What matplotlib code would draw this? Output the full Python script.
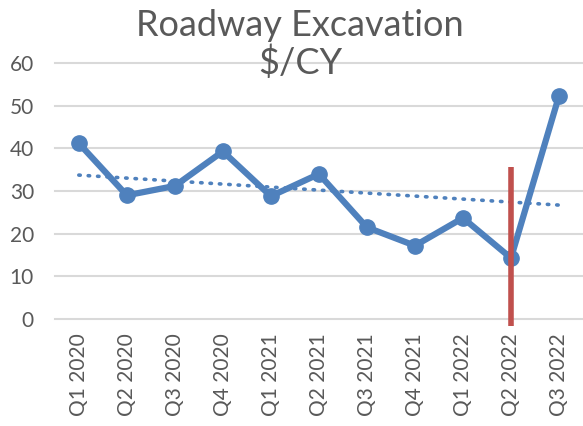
import numpy as np
import matplotlib
matplotlib.use("Agg")
import matplotlib.pyplot as plt

# chart data
quarters = ["Q1 2020", "Q2 2020", "Q3 2020", "Q4 2020", "Q1 2021", "Q2 2021",
            "Q3 2021", "Q4 2021", "Q1 2022", "Q2 2022", "Q3 2022"]
cost_per_cy = [41.2, 29.0, 31.2, 39.3, 28.8, 34.0, 21.5, 17.2, 23.7, 14.3, 52.3]
y_ticks = [0, 10, 20, 30, 40, 50, 60]

# red marker line at Q2 2022
marker_quarter = "Q2 2022"
marker_low, marker_high = -1.6, 35.6

blue = "#4F81BD"
red = "#C0504D"
grey = "#595959"

plt.rcParams['font.family'] = ['Lato', 'DejaVu Sans']

fig = plt.figure(figsize=(5.83, 4.26), dpi=100)
ax = fig.add_axes([0.094, 0.251, 0.906, 0.601])

x = np.arange(len(quarters))

# horizontal gridlines
for t in y_ticks:
    ax.axhline(t, color="#D9D9D9", lw=1.5, zorder=0, clip_on=False)

ax.plot(x, cost_per_cy, color=blue, lw=4.5, marker="o", markersize=11,
        solid_capstyle="round", zorder=3)

# linear trendline
slope, intercept = np.polyfit(x, cost_per_cy, 1)
ax.plot(x, slope * x + intercept, color=blue, lw=2.6, linestyle=(0, (0.4, 2.2)),
        dash_capstyle="round", zorder=2)

mi = quarters.index(marker_quarter)
ax.plot([mi, mi], [marker_low, marker_high], color=red, lw=4, zorder=4,
        clip_on=False, solid_capstyle="butt")

ax.set_xlim(-0.5, len(quarters) - 0.5)
ax.set_ylim(0, 60)
ax.set_yticks(y_ticks)
ax.set_xticks(x)
ax.set_xticklabels(quarters, rotation=90)
ax.tick_params(axis="both", length=0, labelsize=15, colors=grey)
ax.tick_params(axis="y", pad=15)
ax.tick_params(axis="x", pad=10)
for s in ax.spines.values():
    s.set_visible(False)

fig.text(0.515, 0.941, "Roadway Excavation", ha="center", va="center",
         fontsize=26, color=grey)
fig.text(0.515, 0.852, "$/CY", ha="center", va="center",
         fontsize=26, color=grey)

fig.savefig("out.png", dpi=100)
